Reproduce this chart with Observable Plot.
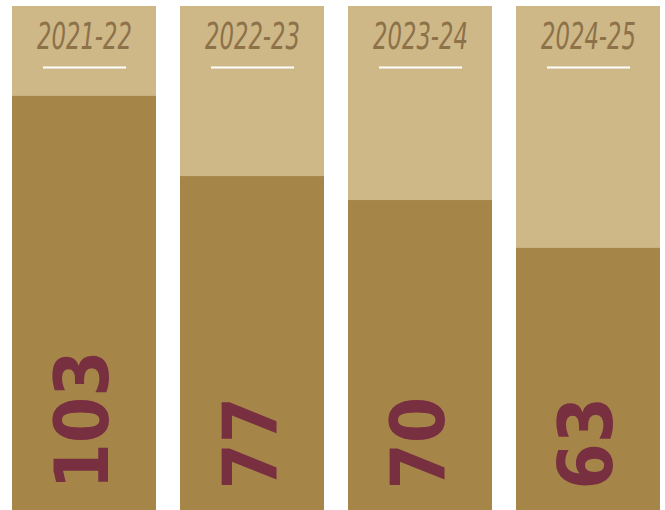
<!DOCTYPE html>
<html>
<head>
<meta charset="utf-8">
<script src="https://cdn.jsdelivr.net/npm/d3@7"></script>
<script src="https://cdn.jsdelivr.net/npm/@observablehq/plot@0.6"></script>
<style>
  html, body { margin: 0; padding: 0; background: #ffffff; }
  #chart { width: 665px; height: 510px; overflow: hidden; }
</style>
</head>
<body>
<div id="chart"></div>
<script>
// Data
const seasons = ["2021-22", "2022-23", "2023-24", "2024-25"];
const counts = [103, 77, 70, 63];
// Filled level of each column on the chart's 0–120 scale
const levels = [98.6, 79.5, 73.8, 62.4];
const scaleMax = 120;

const rows = seasons.map((s, i) => ({season: s, count: counts[i], level: levels[i], top: scaleMax}));

const gold = "#CEB888";
const darkGold = "#A68549";
const garnet = "#782F40";
const labelBrown = "#8D7149";

const chart = Plot.plot({
  width: 665,
  height: 510,
  marginLeft: 12,
  marginRight: 5,
  marginTop: 6,
  marginBottom: 0,
  x: {domain: seasons, paddingInner: 24 / 168, paddingOuter: 0, axis: null},
  y: {domain: [0, scaleMax], axis: null},
  style: {background: "#ffffff"},
  marks: [
    Plot.barY(rows, {x: "season", y: "top", fill: gold}),
    Plot.barY(rows, {x: "season", y: "level", fill: darkGold}),
    Plot.text(rows, {
      x: "season", y: "top", text: "season", dy: 30,
      lineAnchor: "middle", fill: labelBrown,
      fontFamily: "DejaVu Sans Condensed", fontStyle: "oblique",
      fontSize: 38, className: "season-label"
    }),
    Plot.tickY(rows, {x: "season", y: "top", dy: 61, stroke: "#ffffff", strokeWidth: 2, insetLeft: 31, insetRight: 30}),
    Plot.text(rows, {
      x: "season", y: 0, text: d => String(d.count), dy: -21,
      rotate: -90, textAnchor: "start", lineAnchor: "middle",
      fill: garnet, fontFamily: "DejaVu Sans Condensed", fontWeight: "bold", fontSize: 74
    })
  ]
});

d3.select(chart).selectAll(".season-label text")
  .attr("textLength", 95)
  .attr("lengthAdjust", "spacingAndGlyphs");

document.getElementById("chart").appendChild(chart);
</script>
</body>
</html>
